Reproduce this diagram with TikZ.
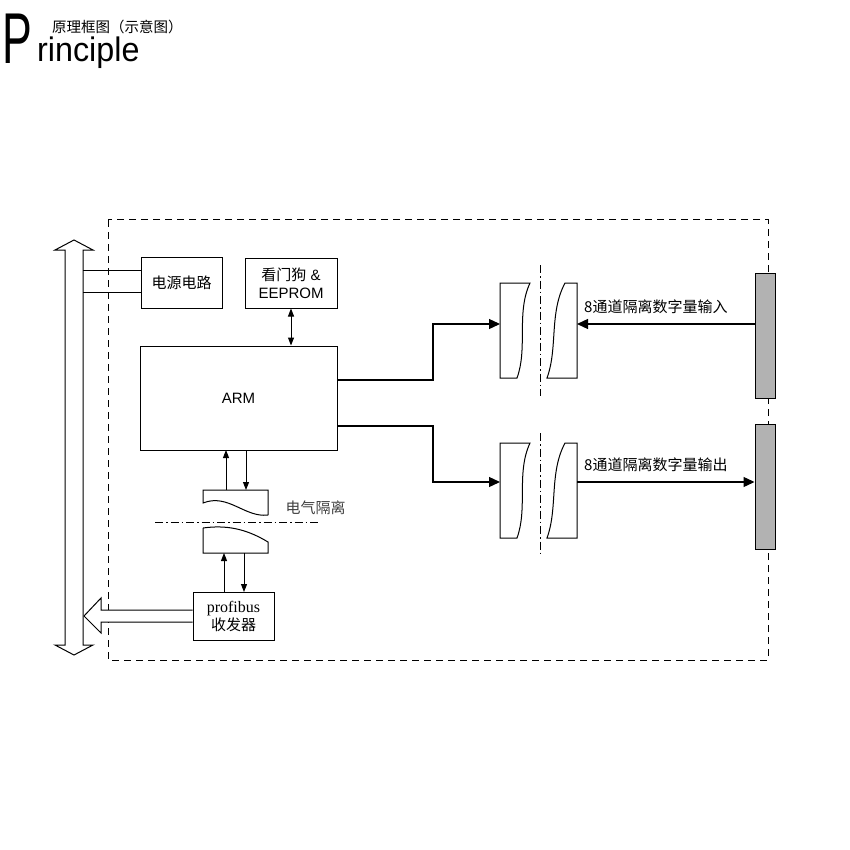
\documentclass[tikz,border=0pt]{standalone}
\usepackage{fontspec}
\setmainfont{Liberation Sans}
\newfontfamily\cjk{Noto Sans CJK SC}
\newfontfamily\serifr{Liberation Serif}
\usetikzlibrary{arrows.meta}
\begin{document}
\begin{tikzpicture}[x=1pt,y=-1pt,
  box/.style={draw,line width=1pt,inner sep=0pt},
  ln/.style={line width=1.3pt},
  arr/.style={ln,-{Triangle[length=11pt,width=10pt]}},
  sarr/.style={line width=1pt,-{Triangle[length=8pt,width=6pt]}},
  dsarr/.style={line width=1pt,{Triangle[length=8pt,width=6pt]}-{Triangle[length=8pt,width=6pt]}},
  dd/.style={line width=0.8pt,dash pattern=on 8pt off 3pt on 1.5pt off 3pt},
  lbl/.style={font=\cjk\fontsize{15}{17}\selectfont}]
\useasboundingbox (0,0) rectangle (850,850);
% header
\node[anchor=south west,inner sep=0pt,xscale=0.62] (P) at (2,64) {\fontsize{72}{72}\selectfont P};
\node[anchor=base west,inner sep=0pt,xscale=0.95] (rin) at (37,62) {\fontsize{34}{34}\selectfont rinciple};
\node[anchor=west,inner sep=0pt] (hd) at (52,27) {\cjk\fontsize{14.5}{16}\selectfont 原理框图（示意图）};
% dashed frame
\draw[line width=1pt,dash pattern=on 7pt off 5pt] (108,220) rectangle (768,660);
% bus
\draw[line width=1pt,fill=white] (65,250) -- (55,250) -- (74,240) -- (93,250) -- (83,250) -- (83,645) -- (93,645) -- (74,655) -- (55,645) -- (65,645) -- cycle;
\coordinate (busR1) at (83,270);
\coordinate (busR2) at (83,292);
% boxes
\node[box,minimum width=81pt,minimum height=51pt,lbl] (pwr) at (181.5,282.5) {电源电路};
\node[box,minimum width=92pt,minimum height=50pt,align=center,font=\fontsize{15}{18}\selectfont] (wd) at (291,283) {{\cjk 看门狗} \&\\EEPROM};
\node[box,minimum width=197pt,minimum height=104pt,font=\fontsize{15}{17}\selectfont] (arm) at (238.5,398) {ARM};
\node[box,minimum width=81pt,minimum height=48pt,align=center,font=\serifr\fontsize{16}{18}\selectfont] (pb) at (233.5,616) {profibus\\{\cjk\fontsize{15}{17}\selectfont 收发器}};
\draw[line width=1pt] (busR1) -- (pwr.west |- busR1);
\draw[line width=1pt] (busR2) -- (pwr.west |- busR2);
\draw[dsarr] (wd.south) -- (arm.north -| wd.south);
% isolation shapes bottom
\draw[line width=1pt] (268,515) -- (268,490) -- (203,490) -- (203,503) .. controls (228,493) and (245,518) .. (268,515);
\draw[line width=1pt] (203,528) -- (203,553) -- (268,553) -- (268,542) .. controls (245,528) and (225,525) .. (203,528);
\node[lbl,anchor=west,text=black!75] (el) at (282,508) {电气隔离};
\draw[dd] (155,522) -- (318,522);
\draw[sarr] (226,490) -- (226,450);
\draw[sarr] (246,450) -- (246,490);
\draw[sarr] (224,592) -- (224,553);
\draw[sarr] (244,553) -- (244,592);
% hollow arrow
\draw[line width=1pt,fill=white] (pb.west |- 0,610) -- (101,610) -- (101,598) -- (84,616) -- (101,633) -- (101,622) -- (pb.west |- 0,622);
% bars
\node[draw,line width=1pt,fill=black!30,minimum width=20pt,minimum height=125pt,inner sep=0pt] (bar1) at (765,335.5) {};
\node[draw,line width=1pt,fill=black!30,minimum width=20pt,minimum height=125pt,inner sep=0pt] (bar2) at (765,486.5) {};
% right iso shapes
\foreach \y in {283,443} {
  \draw[line width=1pt] (500,\y) -- (530,\y) .. controls (516,{\y+30}) and (528,{\y+65}) .. (517,{\y+95}) -- (500,{\y+95}) -- cycle;
  \draw[line width=1pt] (577,\y) -- (565,\y) .. controls (549,{\y+30}) and (558,{\y+65}) .. (547,{\y+95}) -- (577,{\y+95}) -- cycle;
}
\draw[dd] (540,265) -- (540,396);
\draw[dd] (540,433) -- (540,553);
\coordinate (inL) at (500,324);
\coordinate (inR) at (577,324);
\coordinate (outL) at (500,482);
\coordinate (outR) at (577,482);
\draw[arr] (bar1.west |- inR) -- (inR);
\draw[arr] (arm.east |- 0,380) -- (433,380) -- (433,324) -- (inL);
\draw[arr] (arm.east |- 0,426) -- (433,426) -- (433,482) -- (outL);
\draw[arr] (outR) -- (bar2.west |- outR);
\node[lbl,anchor=south west,inner sep=1pt] (lin) at (583,315) {8通道隔离数字量输入};
\node[lbl,anchor=south west,inner sep=1pt] (lout) at (583,473) {8通道隔离数字量输出};
\end{tikzpicture}
\end{document}
